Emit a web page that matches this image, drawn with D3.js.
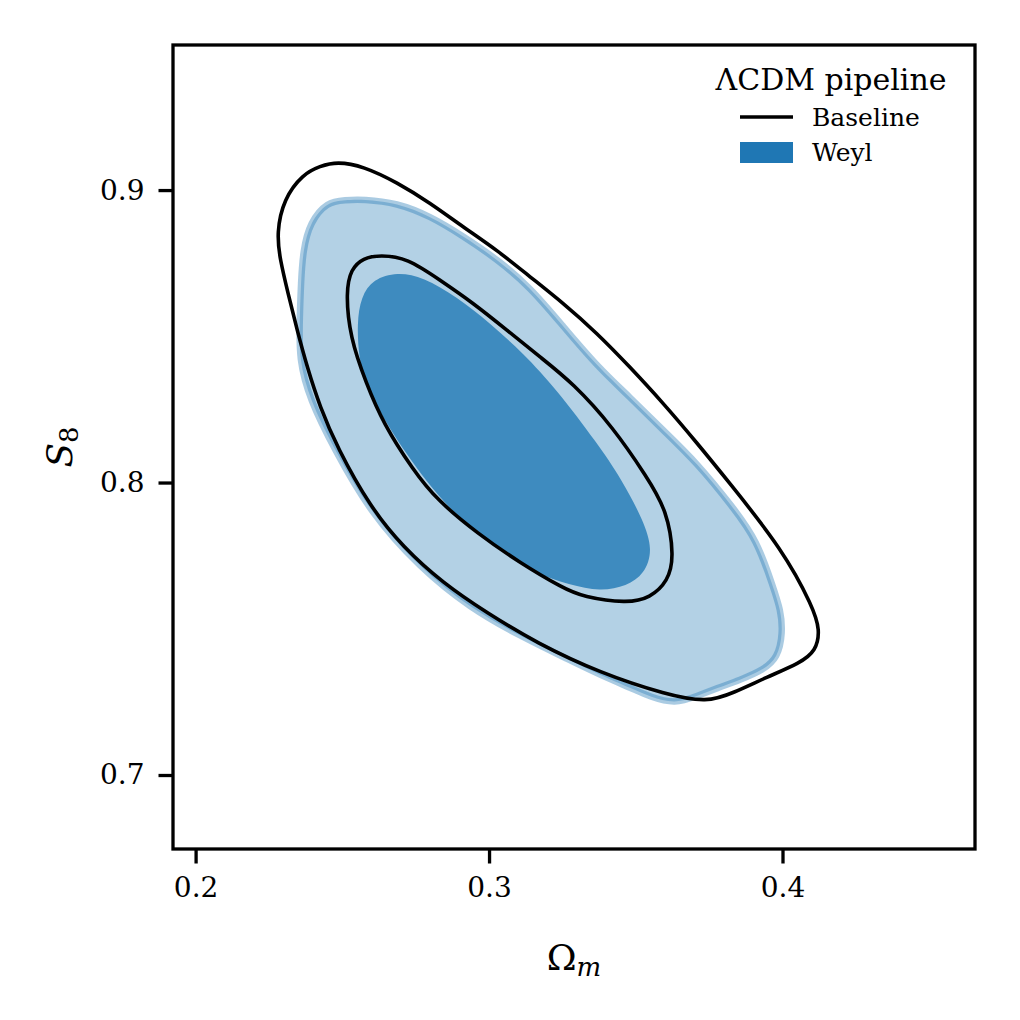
<!DOCTYPE html>
<html>
<head>
<meta charset="utf-8">
<script src="https://cdn.jsdelivr.net/npm/d3@7"></script>
<style>
  body { margin: 0; background: #fff; }
  text { font-family: "DejaVu Serif", serif; fill: #000; }
</style>
</head>
<body>
<div class="chart"></div>
<script>
// contour points, [Omega_m, S8]
const baselineOuter = [
  [0.2424, 0.9082], [0.2482, 0.9097], [0.2571, 0.9082], [0.2687, 0.9026],
  [0.2799, 0.8956], [0.2911, 0.8874], [0.3027, 0.8795], [0.3140, 0.8703],
  [0.3252, 0.8614], [0.3368, 0.8511], [0.3480, 0.8395], [0.3593, 0.8272],
  [0.3709, 0.8135], [0.3811, 0.8009], [0.4002, 0.7769], [0.4104, 0.7574],
  [0.4128, 0.7496], [0.4114, 0.7424], [0.4060, 0.7383], [0.3947, 0.7335],
  [0.3831, 0.7280], [0.3743, 0.7248], [0.3606, 0.7274], [0.3378, 0.7349],
  [0.3163, 0.7451], [0.2993, 0.7554], [0.2843, 0.7656], [0.2707, 0.7779],
  [0.2595, 0.7916], [0.2482, 0.8121], [0.2424, 0.8258], [0.2380, 0.8395],
  [0.2346, 0.8521], [0.2315, 0.8647], [0.2288, 0.8761], [0.2276, 0.8853],
  [0.2300, 0.8970], [0.2366, 0.9055]
];
const baselineInner = [
  [0.2629, 0.8778], [0.2721, 0.8768], [0.2833, 0.8692], [0.2946, 0.8614],
  [0.3061, 0.8521], [0.3174, 0.8429], [0.3286, 0.8340], [0.3422, 0.8190],
  [0.3538, 0.8019], [0.3606, 0.7906], [0.3631, 0.7745], [0.3610, 0.7663],
  [0.3549, 0.7605], [0.3470, 0.7587], [0.3320, 0.7609], [0.3252, 0.7639],
  [0.3106, 0.7725], [0.2959, 0.7827], [0.2823, 0.7940], [0.2741, 0.8043],
  [0.2639, 0.8203], [0.2581, 0.8340], [0.2526, 0.8497], [0.2512, 0.8651],
  [0.2529, 0.8730], [0.2571, 0.8768]
];
const weylOuter = [
  [0.2509, 0.8966], [0.2571, 0.8969], [0.2687, 0.8956], [0.2799, 0.8911],
  [0.2911, 0.8843], [0.3027, 0.8764], [0.3140, 0.8668], [0.3252, 0.8535],
  [0.3368, 0.8398], [0.3480, 0.8292], [0.3593, 0.8179], [0.3709, 0.8067],
  [0.3831, 0.7916], [0.3913, 0.7803], [0.3968, 0.7643], [0.3994, 0.7564],
  [0.4001, 0.7486], [0.3984, 0.7401], [0.3934, 0.7359], [0.3855, 0.7325],
  [0.3777, 0.7297], [0.3709, 0.7270], [0.3634, 0.7243], [0.3549, 0.7267],
  [0.3491, 0.7294], [0.3378, 0.7342], [0.3266, 0.7397], [0.3106, 0.7475],
  [0.2935, 0.7571], [0.2765, 0.7708], [0.2595, 0.7896], [0.2469, 0.8121],
  [0.2390, 0.8282], [0.2352, 0.8419], [0.2355, 0.8566], [0.2359, 0.8682],
  [0.2366, 0.8795], [0.2390, 0.8890], [0.2448, 0.8960]
];
const weylInner = [
  [0.2687, 0.8720], [0.2775, 0.8703], [0.2891, 0.8634], [0.3003, 0.8545],
  [0.3116, 0.8443], [0.3232, 0.8316], [0.3368, 0.8135], [0.3453, 0.8009],
  [0.3525, 0.7872], [0.3559, 0.7769], [0.3529, 0.7687], [0.3470, 0.7646],
  [0.3378, 0.7628], [0.3276, 0.7650], [0.3150, 0.7691], [0.3048, 0.7766],
  [0.2867, 0.7896], [0.2707, 0.8111], [0.2629, 0.8241], [0.2578, 0.8333],
  [0.2556, 0.8429], [0.2550, 0.8545], [0.2563, 0.8634], [0.2605, 0.8696]
];
const xTicks = [0.2, 0.3, 0.4];
const yTicks = [0.7, 0.8, 0.9];
const legendTitle = "ΛCDM pipeline";
const legendLabels = ["Baseline", "Weyl"];

const width = 1020;
const height = 1020;
const margin = {t: 45, r: 45, b: 171, l: 173};

const svg = d3.select(".chart")
  .append("svg")
  .attr("width", width)
  .attr("height", height);

svg.append("rect")
  .attr("width", width)
  .attr("height", height)
  .attr("fill", "#fff");

const x = d3.scaleLinear()
  .domain([0.1923, 0.4656])
  .range([margin.l, width - margin.r]);
const y = d3.scaleLinear()
  .domain([0.6747, 0.9496])
  .range([height - margin.b, margin.t]);

svg.append("clipPath").attr("id", "clip")
  .append("rect")
  .attr("x", margin.l).attr("y", margin.t)
  .attr("width", width - margin.l - margin.r)
  .attr("height", height - margin.t - margin.b);

// smooth closed curves
const line = d3.line()
  .x(d => x(d[0]))
  .y(d => y(d[1]))
  .curve(d3.curveBasisClosed);

const plot = svg.append("g").attr("clip-path", "url(#clip)");

// Weyl filled contours
plot.append("path")
  .attr("d", line(weylOuter))
  .attr("fill", "#1f77b4")
  .attr("fill-opacity", 0.34)
  .attr("stroke", "#1f77b4")
  .attr("stroke-opacity", 0.38)
  .attr("stroke-width", 6.5);

plot.append("path")
  .attr("d", line(weylInner))
  .attr("fill", "#3e8bbf");

// Baseline lines
[baselineOuter, baselineInner].forEach(c => {
  plot.append("path")
    .attr("d", line(c))
    .attr("fill", "none")
    .attr("stroke", "#000")
    .attr("stroke-width", 3.6);
});

// axes
const xAxis = d3.axisBottom(x)
  .tickValues(xTicks)
  .tickFormat(d3.format(".1f"))
  .tickSizeOuter(0)
  .tickSize(14.5)
  .tickPadding(14);
const yAxis = d3.axisLeft(y)
  .tickValues(yTicks)
  .tickFormat(d3.format(".1f"))
  .tickSizeOuter(0)
  .tickSize(14.5)
  .tickPadding(14);

const gx = svg.append("g")
  .attr("transform", `translate(0, ${height - margin.b})`)
  .call(xAxis);
const gy = svg.append("g")
  .attr("transform", `translate(${margin.l}, 0)`)
  .call(yAxis);

[gx, gy].forEach(g => {
  g.select(".domain").remove();
  g.selectAll(".tick line").attr("stroke", "#000").attr("stroke-width", 3.3);
  g.selectAll(".tick text")
    .attr("font-family", "DejaVu Serif")
    .attr("font-size", 28)
    .attr("fill", "#000");
});

// frame
svg.append("rect")
  .attr("x", margin.l).attr("y", margin.t)
  .attr("width", width - margin.l - margin.r)
  .attr("height", height - margin.t - margin.b)
  .attr("fill", "none")
  .attr("stroke", "#000")
  .attr("stroke-width", 3.3);

// axis labels
const xl = svg.append("text")
  .attr("x", (margin.l + width - margin.r) / 2)
  .attr("y", 970)
  .attr("text-anchor", "middle")
  .attr("font-size", 36);
xl.append("tspan").text("Ω");
xl.append("tspan").attr("font-style", "italic").attr("font-size", 26).attr("dy", 6).text("m");

const yl = svg.append("text")
  .attr("transform", `translate(72, ${(margin.t + height - margin.b) / 2}) rotate(-90)`)
  .attr("text-anchor", "middle")
  .attr("font-size", 36);
yl.append("tspan").attr("font-style", "italic").text("S");
yl.append("tspan").attr("font-size", 26).attr("dy", 6).text("8");

// legend
const leg = svg.append("g");
leg.append("text")
  .attr("x", 831).attr("y", 90)
  .attr("text-anchor", "middle")
  .attr("font-size", 30)
  .text(legendTitle);
leg.append("line")
  .attr("x1", 740).attr("x2", 793)
  .attr("y1", 117).attr("y2", 117)
  .attr("stroke", "#000").attr("stroke-width", 3.6);
leg.append("rect")
  .attr("x", 740).attr("y", 142)
  .attr("width", 53).attr("height", 21)
  .attr("fill", "#1f77b4");
leg.selectAll(".lab")
  .data(legendLabels)
  .enter().append("text")
  .attr("class", "lab")
  .attr("x", 812)
  .attr("y", (d, i) => 126 + i * 35)
  .attr("font-size", 25)
  .text(d => d);
</script>
</body>
</html>
